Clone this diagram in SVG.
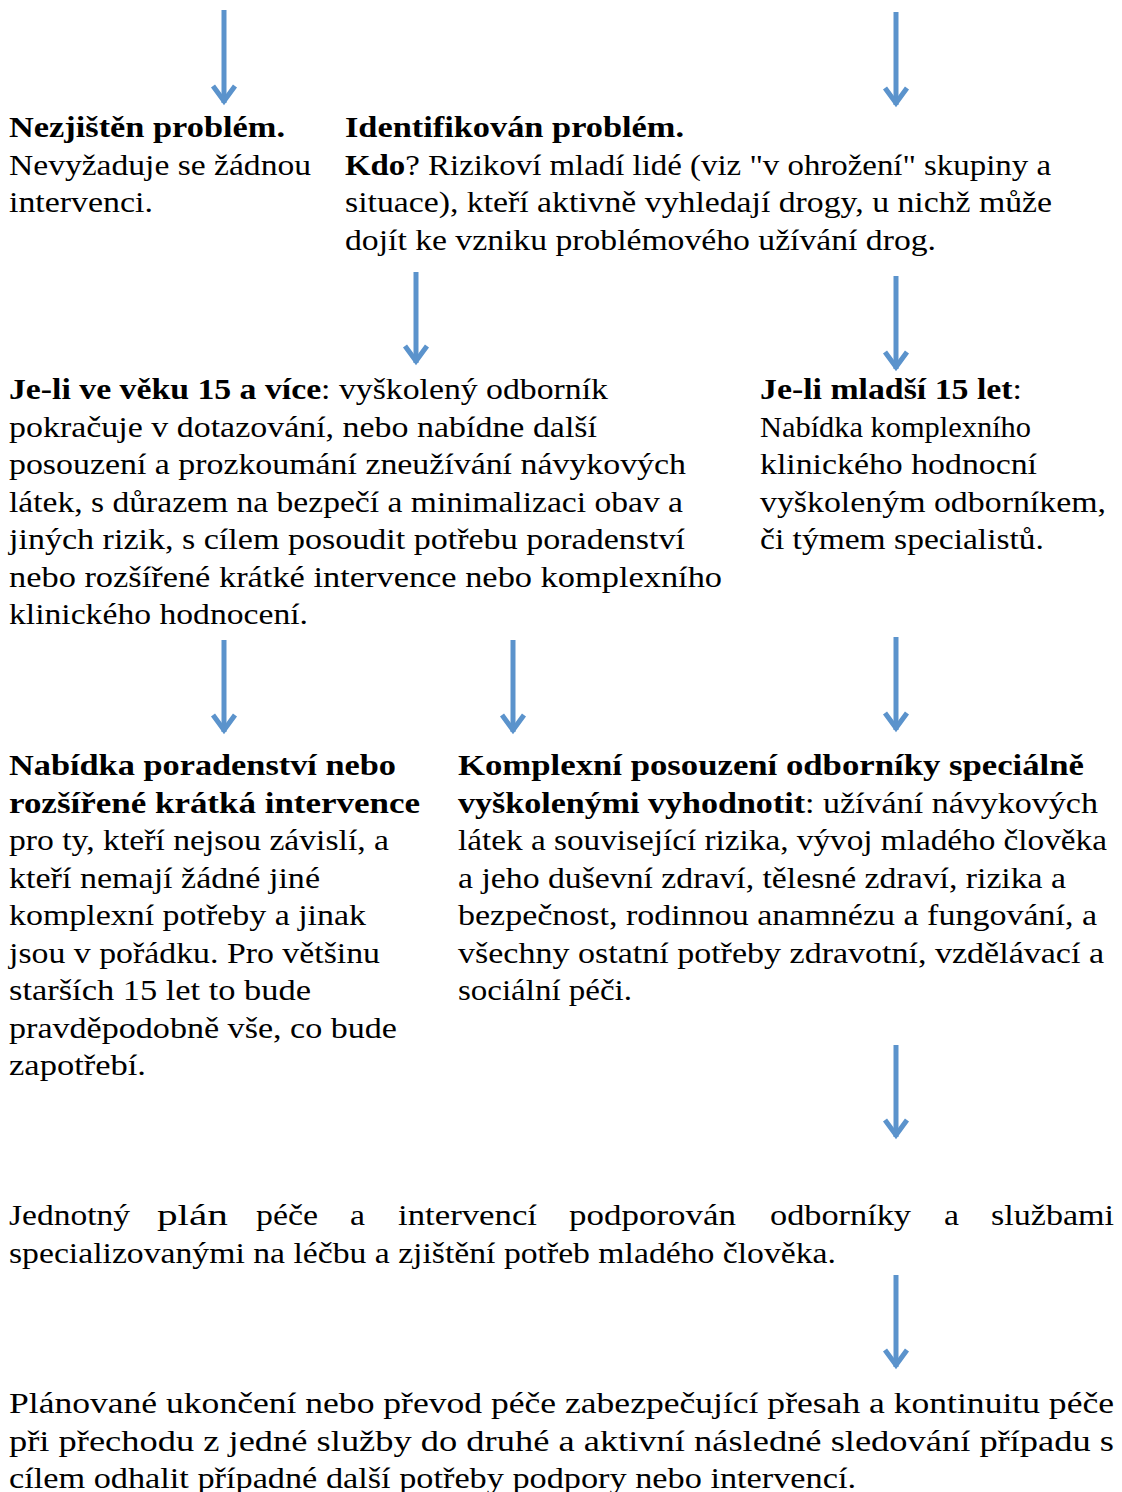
<svg xmlns="http://www.w3.org/2000/svg" width="1122" height="1492" viewBox="0 0 1122 1492">
<style>
text{font-family:"Liberation Serif","DejaVu Serif",serif;font-size:30px;fill:#000}
.b{font-weight:bold}
.arr{stroke:#5b93cc;stroke-width:5;fill:none}
.head{stroke:#5b93cc;stroke-width:5;fill:none;stroke-linejoin:miter;stroke-miterlimit:10}
</style>
<defs>
<marker id="ah" markerUnits="userSpaceOnUse" markerWidth="34" markerHeight="34" viewBox="-27 -17 34 34" refX="0" refY="0" orient="auto">
<path d="M-17,-11 L-2,0 L-17,11" class="head"/>
</marker>
</defs>
<rect width="1122" height="1492" fill="#fff"/>
<g id="connectors">
<path class="arr" d="M224,10 V103" marker-end="url(#ah)"/>
<path class="arr" d="M896,12 V105" marker-end="url(#ah)"/>
<path class="arr" d="M416,272 V363" marker-end="url(#ah)"/>
<path class="arr" d="M896,276 V369" marker-end="url(#ah)"/>
<path class="arr" d="M224,640 V732" marker-end="url(#ah)"/>
<path class="arr" d="M513,640 V732" marker-end="url(#ah)"/>
<path class="arr" d="M896,637 V730" marker-end="url(#ah)"/>
<path class="arr" d="M896,1045 V1137" marker-end="url(#ah)"/>
<path class="arr" d="M896,1275 V1367" marker-end="url(#ah)"/>
</g>
<g id="node-nezjisten">
<text x="9" y="137" class="b" textLength="276" lengthAdjust="spacingAndGlyphs">Nezjištěn problém.</text>
<text x="9" y="174.5" textLength="302" lengthAdjust="spacingAndGlyphs">Nevyžaduje se žádnou</text>
<text x="9" y="212" textLength="144" lengthAdjust="spacingAndGlyphs">intervenci.</text>
</g>
<g id="node-identifikovan">
<text x="345" y="137" class="b" textLength="339" lengthAdjust="spacingAndGlyphs">Identifikován problém.</text>
<text x="345" y="174.5" textLength="706" lengthAdjust="spacingAndGlyphs"><tspan class="b">Kdo</tspan>? Rizikoví mladí lidé (viz "v ohrožení" skupiny a</text>
<text x="345" y="212" textLength="707" lengthAdjust="spacingAndGlyphs">situace), kteří aktivně vyhledají drogy, u nichž může</text>
<text x="345" y="249.5" textLength="591" lengthAdjust="spacingAndGlyphs">dojít ke vzniku problémového užívání drog.</text>
</g>
<g id="node-15-a-vice">
<text x="9" y="399" textLength="599" lengthAdjust="spacingAndGlyphs"><tspan class="b">Je-li ve věku 15 a více</tspan>: vyškolený odborník</text>
<text x="9" y="436.5" textLength="588" lengthAdjust="spacingAndGlyphs">pokračuje v dotazování, nebo nabídne další</text>
<text x="9" y="474" textLength="677" lengthAdjust="spacingAndGlyphs">posouzení a prozkoumání zneužívání návykových</text>
<text x="9" y="511.5" textLength="674" lengthAdjust="spacingAndGlyphs">látek, s důrazem na bezpečí a minimalizaci obav a</text>
<text x="9" y="549" textLength="676" lengthAdjust="spacingAndGlyphs">jiných rizik, s cílem posoudit potřebu poradenství</text>
<text x="9" y="586.5" textLength="713" lengthAdjust="spacingAndGlyphs">nebo rozšířené krátké intervence nebo komplexního</text>
<text x="9" y="624" textLength="299" lengthAdjust="spacingAndGlyphs">klinického hodnocení.</text>
</g>
<g id="node-mladsi-15">
<text x="760" y="399" textLength="262" lengthAdjust="spacingAndGlyphs"><tspan class="b">Je-li mladší 15 let</tspan>:</text>
<text x="760" y="436.5" textLength="271" lengthAdjust="spacingAndGlyphs">Nabídka komplexního</text>
<text x="760" y="474" textLength="277" lengthAdjust="spacingAndGlyphs">klinického hodnocní</text>
<text x="760" y="511.5" textLength="346" lengthAdjust="spacingAndGlyphs">vyškoleným odborníkem,</text>
<text x="760" y="549" textLength="284" lengthAdjust="spacingAndGlyphs">či týmem specialistů.</text>
</g>
<g id="node-poradenstvi">
<text x="9" y="775" class="b" textLength="387" lengthAdjust="spacingAndGlyphs">Nabídka poradenství nebo</text>
<text x="9" y="812.5" class="b" textLength="411" lengthAdjust="spacingAndGlyphs">rozšířené krátká intervence</text>
<text x="9" y="850" textLength="380" lengthAdjust="spacingAndGlyphs">pro ty, kteří nejsou závislí, a</text>
<text x="9" y="887.5" textLength="311" lengthAdjust="spacingAndGlyphs">kteří nemají žádné jiné</text>
<text x="9" y="925" textLength="357" lengthAdjust="spacingAndGlyphs">komplexní potřeby a jinak</text>
<text x="9" y="962.5" textLength="371" lengthAdjust="spacingAndGlyphs">jsou v pořádku. Pro většinu</text>
<text x="9" y="1000" textLength="302" lengthAdjust="spacingAndGlyphs">starších 15 let to bude</text>
<text x="9" y="1037.5" textLength="388" lengthAdjust="spacingAndGlyphs">pravděpodobně vše, co bude</text>
<text x="9" y="1075" textLength="137" lengthAdjust="spacingAndGlyphs">zapotřebí.</text>
</g>
<g id="node-komplexni">
<text x="458" y="775" class="b" textLength="626" lengthAdjust="spacingAndGlyphs">Komplexní posouzení odborníky speciálně</text>
<text x="458" y="812.5" textLength="640" lengthAdjust="spacingAndGlyphs"><tspan class="b">vyškolenými vyhodnotit</tspan>: užívání návykových</text>
<text x="458" y="850" textLength="649" lengthAdjust="spacingAndGlyphs">látek a související rizika, vývoj mladého člověka</text>
<text x="458" y="887.5" textLength="608" lengthAdjust="spacingAndGlyphs">a jeho duševní zdraví, tělesné zdraví, rizika a</text>
<text x="458" y="925" textLength="639" lengthAdjust="spacingAndGlyphs">bezpečnost, rodinnou anamnézu a fungování, a</text>
<text x="458" y="962.5" textLength="646" lengthAdjust="spacingAndGlyphs">všechny ostatní potřeby zdravotní, vzdělávací a</text>
<text x="458" y="1000" textLength="174" lengthAdjust="spacingAndGlyphs">sociální péči.</text>
</g>
<g id="node-plan">
<text y="1225"><tspan x="9" textLength="121" lengthAdjust="spacingAndGlyphs">Jednotný</tspan> <tspan x="157" textLength="71" lengthAdjust="spacingAndGlyphs">plán</tspan> <tspan x="256" textLength="62" lengthAdjust="spacingAndGlyphs">péče</tspan> <tspan x="350" textLength="15" lengthAdjust="spacingAndGlyphs">a</tspan> <tspan x="398" textLength="139" lengthAdjust="spacingAndGlyphs">intervencí</tspan> <tspan x="569" textLength="167" lengthAdjust="spacingAndGlyphs">podporován</tspan> <tspan x="770" textLength="141" lengthAdjust="spacingAndGlyphs">odborníky</tspan> <tspan x="944" textLength="15" lengthAdjust="spacingAndGlyphs">a</tspan> <tspan x="991" textLength="123" lengthAdjust="spacingAndGlyphs">službami</tspan></text>
<text x="9" y="1262.5" textLength="827" lengthAdjust="spacingAndGlyphs">specializovanými na léčbu a zjištění potřeb mladého člověka.</text>
</g>
<g id="node-ukonceni">
<text x="9" y="1413" textLength="1105" lengthAdjust="spacingAndGlyphs">Plánované ukončení nebo převod péče zabezpečující přesah a kontinuitu péče</text>
<text x="9" y="1450.5" textLength="1105" lengthAdjust="spacingAndGlyphs">při přechodu z jedné služby do druhé a aktivní následné sledování případu s</text>
<text x="9" y="1488" textLength="847" lengthAdjust="spacingAndGlyphs">cílem odhalit případné další potřeby podpory nebo intervencí.</text>
</g>
</svg>
